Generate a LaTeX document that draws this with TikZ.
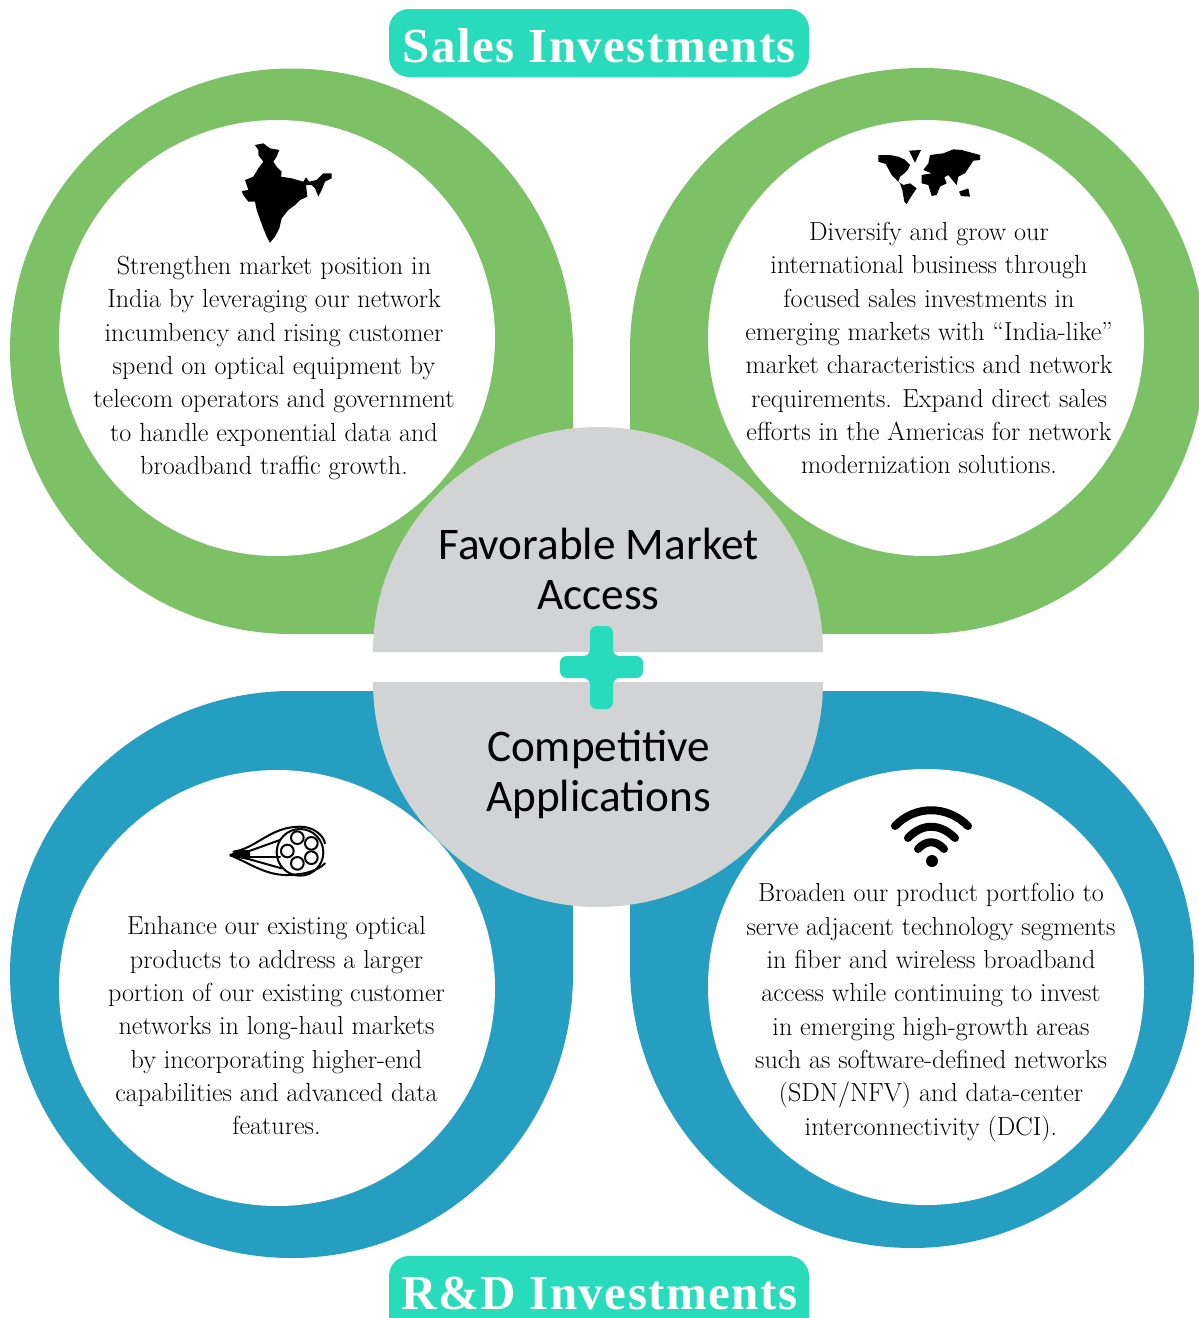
\documentclass[tikz,border=0pt]{standalone}
\usepackage{fontspec}
\newfontfamily\calibrifont{Carlito}
\newfontfamily\titlefont[LetterSpace=3]{Liberation Serif}
\usepackage{tikz}
\usetikzlibrary{calc, positioning}
\definecolor{salesgreen}{RGB}{124, 193, 102}
\definecolor{rdblue}{RGB}{38, 158, 193}
\definecolor{pillteal}{RGB}{40, 219, 187}
\definecolor{hubgray}{RGB}{209, 211, 212}
\tikzset{
  blurb/.style={align=center, text=black, font=\fontsize{19.6}{25}\selectfont, inner sep=0pt},
  pilltext/.style={text=white, font=\titlefont\fontsize{36.7}{44}\selectfont\bfseries, inner sep=0pt},
  hubtext/.style={align=center, text=black, font=\calibrifont\fontsize{33.9}{37.5}\selectfont, inner sep=0pt},
  hole/.style={fill=white},
  wave/.style={line width=6pt, line cap=round}
}
\begin{document}
\begin{tikzpicture}[x=0.75pt, y=-0.75pt, line cap=round, line join=round]
    \useasboundingbox (0,0) rectangle (1199,1318);

    % green teardrops
    \fill [salesgreen] (573,350) arc [start angle=0, end angle=180, radius=281.5*0.75pt]
        arc [start angle=180, end angle=270, x radius=281.5*0.75pt, y radius=284*0.75pt] -- (573,634) -- cycle;
    \fill [salesgreen] (630,350) arc [start angle=180, end angle=90, x radius=292*0.75pt, y radius=282*0.75pt]
        arc [start angle=90, end angle=0, radius=283*0.75pt]
        arc [start angle=0, end angle=-90, x radius=283*0.75pt, y radius=283*0.75pt] -- (630,634) -- cycle;
    \fill [hole] (277,338) circle [radius=218*0.75pt];
    \fill [hole] (926,338) circle [radius=218*0.75pt];

    % blue teardrops
    \fill [rdblue] (573,974) arc [start angle=0, end angle=-180, x radius=281.5*0.75pt, y radius=284*0.75pt]
        arc [start angle=180, end angle=90, x radius=281.5*0.75pt, y radius=283*0.75pt] -- (573,691) -- cycle;
    \fill [rdblue] (630,966) arc [start angle=180, end angle=270, radius=282*0.75pt]
        arc [start angle=-90, end angle=0, radius=282*0.75pt]
        arc [start angle=0, end angle=90, x radius=282*0.75pt, y radius=275*0.75pt] -- (630,691) -- cycle;
    \fill [hole] (277,988) circle [radius=218*0.75pt];
    \fill [hole] (926,987) circle [radius=218*0.75pt];

    % hub
    \fill [hubgray] (373,652) arc [start angle=180, end angle=0, radius=225*0.75pt] -- cycle;
    \fill [hubgray] (373,682) arc [start angle=180, end angle=360, radius=225*0.75pt] -- cycle;
    \fill [pillteal, rounded corners=5pt] (590,626) -- (613,626) -- (613,656) -- (643,656) -- (643,678) -- (613,678)
        -- (613,709) -- (590,709) -- (590,678) -- (560,678) -- (560,656) -- (590,656) -- cycle;
    \node [hubtext] (market) at (598.5,569) {Favorable Market\\Access};
    \node [hubtext] (apps) at (598.5,775) {Competitive\\Applications};

    % pills
    \fill [pillteal, rounded corners=15pt] (389,9) rectangle (809,77);
    \fill [pillteal, rounded corners=15pt] (389,1340) rectangle (809,1256);
    \node [pilltext] (sales) at (599.5,46) {Sales Investments};
    \node [pilltext] (rd) at (599.5,1293) {R\&D Investments};

    % texts
    \node [blurb] (india) at (274,368) {Strengthen market position in\\India by leveraging our network\\incumbency and rising customer\\spend on optical equipment by\\telecom operators and government\\to handle exponential data and\\broadband traffic growth.};
    \node [blurb] (world) at (929,348) {Diversify and grow our\\international business through\\focused sales investments in\\emerging markets with “India-like”\\market characteristics and network\\requirements. Expand direct sales\\efforts in the Americas for network\\modernization solutions.};
    \node [blurb] (optical) at (276.5,1026) {Enhance our existing optical\\products to address a larger\\portion of our existing customer\\networks in long-haul markets\\by incorporating higher-end\\capabilities and advanced data\\features.};
    \node [blurb] (portfolio) at (931,1012.5) {Broaden our product portfolio to\\serve adjacent technology segments\\in fiber and wireless broadband\\access while continuing to invest\\in emerging high-growth areas\\such as software-defined networks\\(SDN/NFV) and data-center\\interconnectivity (DCI).};

    % india map
    \begin{scope}[shift={(220,130)}, x=0.25pt, y=-0.25pt]
      \fill [black] (105,45) -- (130,40) -- (150,55) -- (178,60) -- (170,80) -- (160,95) -- (170,110) -- (185,125)
        -- (183,140) -- (215,145) -- (250,155) -- (258,142) -- (268,155) -- (290,150) -- (310,130) -- (335,130)
        -- (335,145) -- (315,155) -- (305,180) -- (295,200) -- (285,175) -- (275,165) -- (258,165) -- (262,200)
        -- (240,210) -- (225,225) -- (205,240) -- (185,265) -- (178,295) -- (165,320) -- (150,338) -- (140,320)
        -- (128,290) -- (110,240) -- (105,215) -- (85,215) -- (70,195) -- (65,183) -- (85,180) -- (75,150)
        -- (100,140) -- (115,115) -- (130,95) -- (115,75) -- (115,60) -- cycle;
    \end{scope}

    % world map
    \begin{scope}[shift={(865,140)}, x=0.25pt, y=-0.25pt]
      \fill [black] (40,45) -- (75,45) -- (100,50) -- (118,58) -- (135,75) -- (128,90) -- (118,100) -- (105,110)
        -- (100,125) -- (115,135) -- (135,130) -- (155,145) -- (135,175) -- (125,192) -- (118,185) -- (112,150)
        -- (105,130) -- (80,105) -- (62,72) -- (40,65) -- cycle;
      \fill [black] (132,32) -- (168,30) -- (150,68) -- cycle;
      \fill [black] (195,45) -- (235,40) -- (265,28) -- (290,30) -- (345,45) -- (345,60) -- (325,62) -- (310,85)
        -- (300,100) -- (280,110) -- (275,135) -- (262,120) -- (250,105) -- (238,112) -- (245,130) -- (225,140)
        -- (215,165) -- (200,168) -- (190,135) -- (170,130) -- (170,105) -- (200,100) -- (175,90) -- (190,70) -- cycle;
      \fill [black] (282,155) -- (310,145) -- (315,170) -- (288,168) -- cycle;
    \end{scope}

    % cable
    \begin{scope}[shift={(220,815)}, x=0.25pt, y=-0.25pt, line width=1.5pt, black]
      \fill (28,118) -- (60,105) -- (90,105) -- (90,135) -- (60,130) -- (30,125) -- cycle;
      \draw (40,110) .. controls (110,100) and (150,35) .. (240,35) .. controls (280,35) and (310,60) .. (315,85);
      \draw (40,125) .. controls (100,150) and (150,190) .. (230,178) .. controls (270,175) and (300,160) .. (315,145);
      \draw (60,118) -- (180,75);
      \draw (60,125) -- (180,125);
      \draw (60,125) -- (185,160);
      \draw (240,112) circle [radius=70*0.25pt];
      \foreach \cx/\cy in {232/68, 274/85, 274/128, 232/145, 202/108}
        \draw (\cx,\cy) circle [radius=19*0.25pt];
    \end{scope}

    % wifi
    \fill [black] (932,861) circle [radius=6*0.75pt];
    \draw [wave] (895,826) .. controls (915,805) and (947,805) .. (968,826);
    \draw [wave] (908,838) .. controls (922,823) and (940,823) .. (955,838);
    \draw [wave] (918,849) .. controls (926,840) and (936,840) .. (944,849);
\end{tikzpicture}
\end{document}
